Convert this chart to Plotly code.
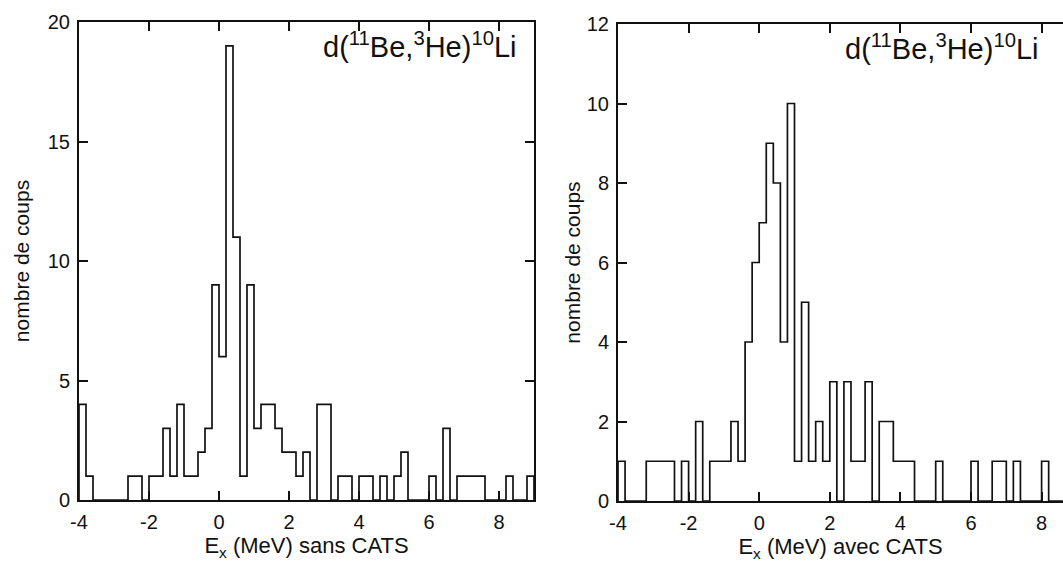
import plotly.graph_objects as go

# ---- data (counts per 0.2 MeV bin, starting at -4 MeV) ----
bin_start = -4.0
bin_width = 0.2

counts_sans_cats = [4, 1, 0, 0, 0, 0, 0, 1, 1, 0,
                    1, 1, 3, 1, 4, 1, 1, 2, 3, 9,
                    6, 19, 11, 1, 9, 3, 4, 4, 3, 2,
                    2, 1, 2, 0, 4, 4, 0, 1, 1, 0,
                    1, 1, 0, 1, 0, 1, 2, 0, 0, 0,
                    1, 0, 3, 0, 1, 1, 1, 1, 0, 0,
                    0, 1, 0, 0, 1]

counts_avec_cats = [1, 0, 0, 0, 1, 1, 1, 1, 0, 1,
                    0, 2, 0, 1, 1, 1, 2, 1, 4, 6,
                    7, 9, 8, 4, 10, 1, 5, 1, 2, 1,
                    3, 0, 3, 1, 1, 3, 0, 2, 2, 1,
                    1, 1, 0, 0, 0, 1, 0, 0, 0, 0,
                    1, 0, 0, 1, 1, 0, 1, 0, 0, 0,
                    1, 0, 0]

x_ticks = [-4, -2, 0, 2, 4, 6, 8]
x_tick_labels = ["-4", "-2", "0", "2", "4", "6", "8"]
y_ticks_left = [0, 5, 10, 15, 20]
y_ticks_right = [0, 2, 4, 6, 8, 10, 12]

reaction_label = "d(<sup>11</sup>Be,<sup>3</sup>He)<sup>10</sup>Li"
x_title_left = "E<sub>x</sub> (MeV) sans CATS"
x_title_right = "E<sub>x</sub> (MeV) avec CATS"
y_title = "nombre de coups"


def step_outline(counts):
    edges = [round(bin_start + i * bin_width, 2) for i in range(len(counts) + 1)]
    xs = [edges[0]] + edges
    ys = [0] + list(counts) + [0]
    return xs, ys


FONT = "Liberation Sans, Arial, Helvetica, sans-serif"
INK = "#111111"
W, H = 1063, 571

fig = go.Figure()
xl, yl = step_outline(counts_sans_cats)
fig.add_trace(go.Scatter(x=xl, y=yl, mode="lines", line=dict(shape="hv", color=INK, width=1.7),
                         xaxis="x", yaxis="y", showlegend=False, hoverinfo="skip"))
xr, yr = step_outline(counts_avec_cats)
fig.add_trace(go.Scatter(x=xr, y=yr, mode="lines", line=dict(shape="hv", color=INK, width=1.7),
                         xaxis="x2", yaxis="y2", showlegend=False, hoverinfo="skip"))

axis_common = dict(showgrid=False, zeroline=False, showline=True, linecolor=INK, linewidth=2,
                   ticks="inside", ticklen=9, tickwidth=1.5, tickcolor=INK, automargin=False,
                   tickfont=dict(family=FONT, size=20, color=INK))
y_title_font = dict(family=FONT, size=21, color=INK)
x_title_font = dict(family=FONT, size=22, color=INK)

px_per_mev = 35.3
left_x = (79 / W, 534 / W)
right_x0 = 618 / W
right_xmax = -4 + (W - 618) / px_per_mev

fig.update_layout(
    width=W, height=H,
    margin=dict(l=0, r=0, t=0, b=0, autoexpand=False),
    paper_bgcolor="white", plot_bgcolor="white",
    xaxis=dict(domain=list(left_x), range=[-4, 9], tickvals=x_ticks, ticktext=x_tick_labels,
               mirror="ticks", anchor="y", ticklabelstandoff=3,
               title=dict(text=x_title_left, font=x_title_font, standoff=4),
               **axis_common),
    yaxis=dict(domain=[1 - 500 / H, 1 - 22 / H], range=[0, 20], tickvals=y_ticks_left, mirror="ticks",
               anchor="x", ticklabelstandoff=3,
               title=dict(text=y_title, font=y_title_font, standoff=12),
               **axis_common),
    xaxis2=dict(domain=[right_x0, 1.0], range=[-4, right_xmax], tickvals=x_ticks, ticktext=x_tick_labels,
                mirror="ticks", anchor="y2", ticklabelstandoff=3,
                title=dict(text=x_title_right, font=x_title_font, standoff=4),
                **axis_common),
    yaxis2=dict(domain=[1 - 501 / H, 1 - 24 / H], range=[0, 12], tickvals=y_ticks_right, mirror=False,
                anchor="x2", ticklabelstandoff=3,
                title=dict(text=y_title, font=y_title_font, standoff=0),
                **axis_common),
    annotations=[
        dict(text=reaction_label, xref="paper", yref="paper", x=420 / W, y=1 - 45 / H,
             xanchor="center", yanchor="middle", showarrow=False,
             font=dict(family=FONT, size=29, color=INK)),
        dict(text=reaction_label, xref="paper", yref="paper", x=942 / W, y=1 - 47 / H,
             xanchor="center", yanchor="middle", showarrow=False,
             font=dict(family=FONT, size=29, color=INK)),
    ],
)

fig.write_html("out.html")
